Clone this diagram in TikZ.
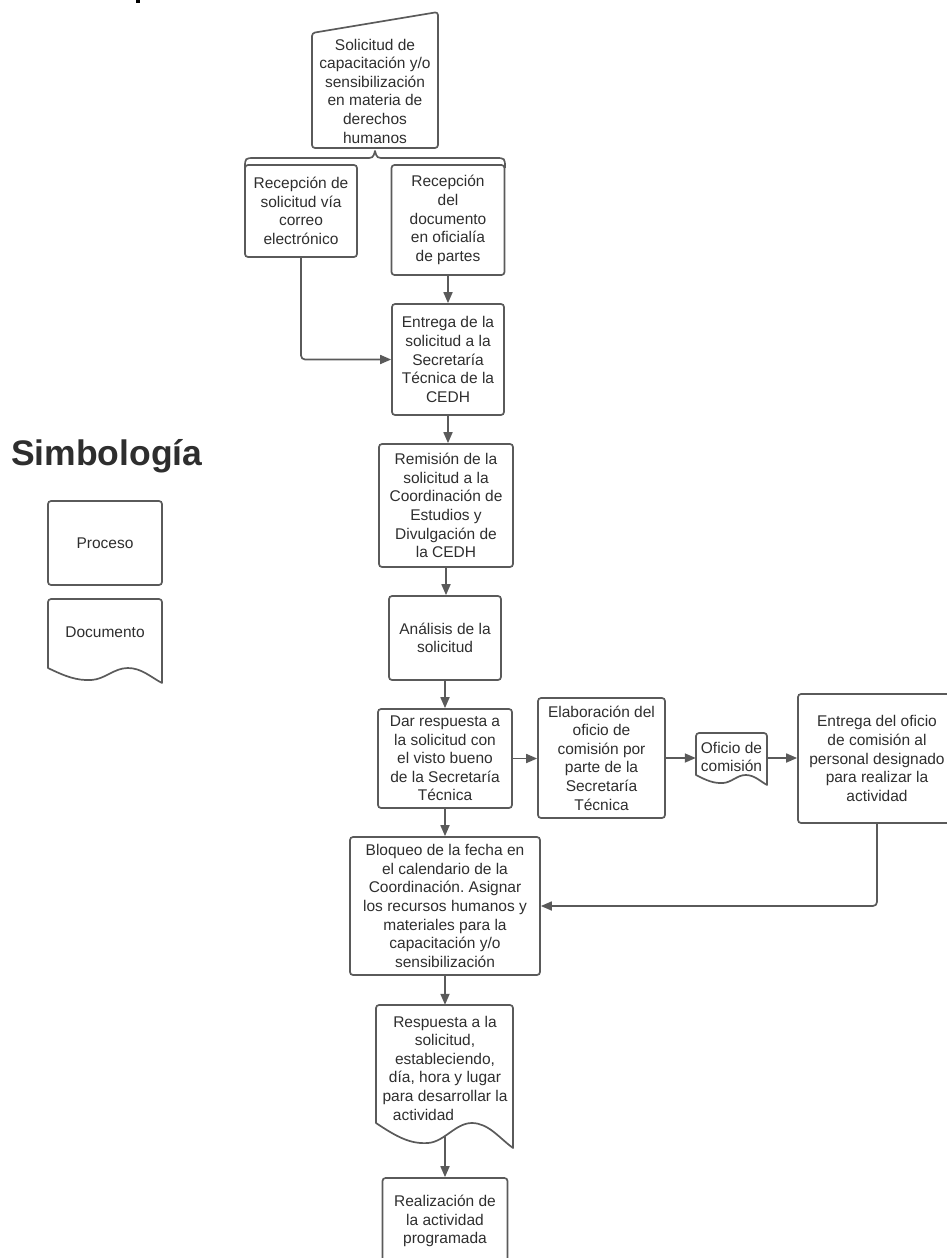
\documentclass[tikz,border=0pt]{standalone}
\usepackage{fontspec}
\setmainfont{Liberation Sans}
\usetikzlibrary{arrows.meta}
\definecolor{linec}{HTML}{5A5A5A}
\definecolor{txt}{HTML}{2E2E2E}
\frenchspacing
\newcommand\bodyfont{\fontsize{15.5pt}{18.6pt}\selectfont}
% process box: name, centre x, centre y, width, height, text
\newcommand\procbox[6]{\node[proc, minimum width=#4pt, minimum height=#5pt] (#1) at (#2,#3) {#6};}
% document outline: left, right, top, bottom-left, bottom-right
\newcommand\docshape[5]{%
  \pgfmathsetmacro\docW{#2-#1}\pgfmathsetmacro\docA{#5-#4}%
  \draw[shapeline] (#1,#4) [rounded corners=3pt] -- (#1,#3) -- (#2,#3) [sharp corners] -- (#2,#5)
    .. controls ({#1+0.9*\docW},{#4+0.6*\docA}) and ({#1+0.82*\docW},{#4}) .. ({#1+0.7*\docW},{#4})
    .. controls ({#1+0.58*\docW},{#4}) and ({#1+0.5*\docW},{#4+0.75*\docA}) .. ({#1+0.38*\docW},{#4+0.8*\docA})
    .. controls ({#1+0.25*\docW},{#4+0.85*\docA}) and ({#1+0.15*\docW},{#4+0.55*\docA}) .. (#1,#4) -- cycle;}

\begin{document}
\begin{tikzpicture}[x=1pt,y=-1pt,
  proc/.style={draw=linec, line width=1.7pt, rounded corners=3pt, align=center, text=txt, inner sep=0pt, font=\bodyfont},
  lbl/.style={align=center, text=txt, inner sep=0pt, font=\bodyfont},
  shapeline/.style={draw=linec, line width=1.7pt, line join=round},
  conn/.style={draw=linec, line width=1.7pt, -{Triangle[length=11pt,width=9pt]}},
  elbow/.style={conn, rounded corners=4pt}]

\useasboundingbox (0,0) rectangle (946,1258);
\fill[black] (136,0) rectangle (140,3);

% legend
\node[anchor=base west, inner sep=0pt, text=txt, font=\fontsize{35.5pt}{42pt}\selectfont\bfseries] (simb) at (11,465) {Simbología};
\procbox{lproc}{105}{543}{114}{84}{Proceso}
\docshape{48}{162}{599}{668}{683}
\node[lbl] (ldoc) at (105,632) {Documento};

% incoming request (manual input)
\draw[shapeline, rounded corners=3pt] (312,33) -- (438,12) -- (438,148) -- (312,148) -- cycle;
\node[lbl, minimum width=126pt, minimum height=115pt] (sol) at (375,91) {Solicitud de\\capacitación y/o\\sensibilización\\en materia de\\derechos\\humanos};

% brace splitting into the two reception paths
\coordinate (btip) at (375,151);
\draw[shapeline] (245,168) .. controls (245,158) .. (255,158) -- (365,158)
  .. controls (373,158) .. (btip) .. controls (377,158) .. (385,158) -- (495,158)
  .. controls (505,158) .. (505,168);

\procbox{rec1}{301}{211}{112}{92}{Recepción de\\solicitud vía\\correo\\electrónico}
\procbox{rec2}{448}{220}{113}{110}{Recepción\\del\\documento\\en oficialía\\de partes}
\procbox{ent}{448}{359.5}{112}{111}{Entrega de la\\solicitud a la\\Secretaría\\Técnica de la\\CEDH}
\procbox{rem}{446}{505.5}{134}{123}{Remisión de la\\solicitud a la\\Coordinación de\\Estudios y\\Divulgación de\\la CEDH}
\procbox{ana}{445}{638}{112}{84}{Análisis de la\\solicitud}
\procbox{dar}{445}{758.5}{134}{99}{Dar respuesta a\\la solicitud con\\el visto bueno\\de la Secretaría\\Técnica}
\procbox{ela}{601.5}{758}{127}{120}{Elaboración del\\oficio de\\comisión por\\parte de la\\Secretaría\\Técnica}
\docshape{696}{767}{733}{775}{785}
\node[lbl, minimum width=71pt, minimum height=46pt] (ofi) at (731.5,757) {Oficio de\\comisión};
\procbox{eno}{877}{758.5}{158}{129}{Entrega del oficio\\de comisión al\\personal designado\\para realizar la\\actividad}
\procbox{blo}{445}{906}{190}{138}{Bloqueo de la fecha en\\el calendario de la\\Coordinación. Asignar\\los recursos humanos y\\materiales para la\\capacitación y/o\\sensibilización}
\docshape{376}{513}{1005}{1123}{1148}
\node[lbl, minimum width=137pt, minimum height=126pt] (res) at (445,1068) {Respuesta a la\\solicitud,\\estableciendo,\\día, hora y lugar\\para desarrollar la\\actividad\hspace*{43pt}};
\coordinate (resbot) at (445,1136);
\procbox{rea}{445}{1221}{125}{86}{Realización de\\la actividad\\programada}

% connectors
\draw[elbow] (rec1.south) |- (ent.west);
\draw[conn] (rec2.south) -- (rec2.south |- ent.north);
\draw[conn] (ent.south) -- (ent.south |- rem.north);
\draw[conn] (rem.south) -- (rem.south |- ana.north);
\draw[conn] (ana.south) -- (ana.south |- dar.north);
\draw[conn] (dar.east) -- (dar.east -| ela.west);
\draw[conn] (ela.east) -- (ela.east -| ofi.west);
\draw[conn] (ofi.east |- ela.east) -- (ela.east -| eno.west);
\draw[elbow] (eno.south) |- (blo.east);
\draw[conn] (dar.south) -- (dar.south |- blo.north);
\draw[conn] (blo.south) -- (blo.south |- res.north);
\draw[conn] (resbot) -- (rea.north);
\end{tikzpicture}
\end{document}
